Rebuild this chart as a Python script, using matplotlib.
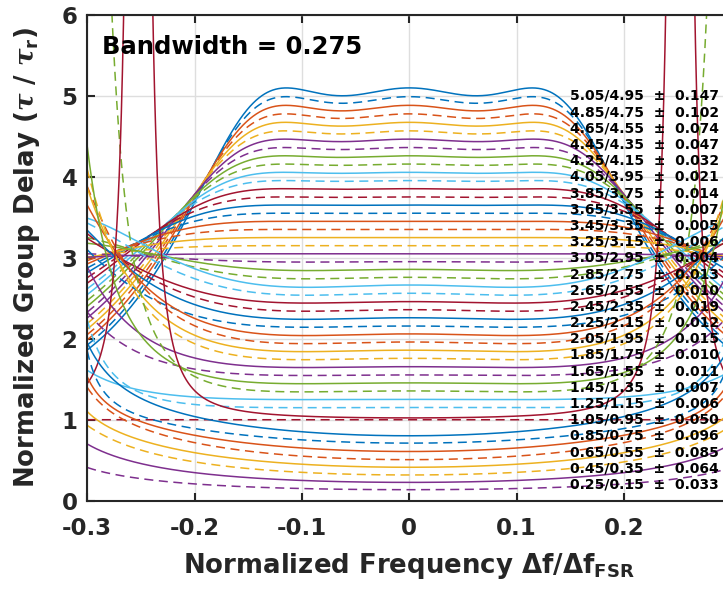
import numpy as np
import matplotlib
matplotlib.use('Agg')
import matplotlib.pyplot as plt

# Target delays (solid / dashed) and the quoted in-band tolerance of each pair
solid_delay = [5.05, 4.85, 4.65, 4.45, 4.25, 4.05, 3.85, 3.65, 3.45, 3.25, 3.05, 2.85, 2.65,
               2.45, 2.25, 2.05, 1.85, 1.65, 1.45, 1.25, 1.05, 0.85, 0.65, 0.45, 0.25]
dashed_delay = [4.95, 4.75, 4.55, 4.35, 4.15, 3.95, 3.75, 3.55, 3.35, 3.15, 2.95, 2.75, 2.55,
                2.35, 2.15, 1.95, 1.75, 1.55, 1.35, 1.15, 0.95, 0.75, 0.55, 0.35, 0.15]
tolerance = [0.147, 0.102, 0.074, 0.047, 0.032, 0.021, 0.014, 0.007, 0.005, 0.006, 0.004, 0.013,
             0.010, 0.019, 0.012, 0.015, 0.010, 0.011, 0.007, 0.006, 0.050, 0.096, 0.085, 0.064, 0.033]
bandwidth = 0.275

# Three-ring all-pass designs: one ring on the centre frequency (real pole) and a
# symmetric pair of rings detuned by +/- pair_freq (in units of the FSR).
solid_center_pole = [0.4650, 0.4377, 0.4094, 0.3800, 0.3492, 0.3169, 0.2828, 0.2462, 0.2062,
                     0.1597, 0.0902, 0.1836, 0.2126, 0.1760, 0.1731, 0.1690, 0.1531, 0.1164,
                     0.1028, 0.0486, -0.0077, -0.1626, -0.2588, -0.4280, -0.6545]
solid_pair_radius = [0.5275, 0.5032, 0.4776, 0.4503, 0.4210, 0.3894, 0.3547, 0.3158, 0.2706,
                     0.2135, 0.1167, 0.26355, 0.38391, 0.37250, 0.46197, 0.56853, 0.65934,
                     0.70544, 0.83805, 0.86995, 0.98100, 0.93486, 0.98585, 0.99032, 0.98545]
solid_pair_freq = [0.1411, 0.1461, 0.1517, 0.1582, 0.1658, 0.1748, 0.1856, 0.1990, 0.2164,
                   0.2407, 0.2856, 0.3295, 0.3299, 0.3761, 0.3759, 0.3643, 0.3595, 0.3864,
                   0.3437, 0.4161, 0.2525, 0.3627, 0.3383, 0.3492, 0.3758]

dashed_center_pole = [0.4514, 0.4237, 0.3948, 0.3648, 0.3333, 0.3001, 0.2649, 0.2268, 0.1841,
                      0.1312, 0.1354, 0.1910, 0.1982, 0.1761, 0.1561, 0.1642, 0.1442, 0.0953,
                      0.0975, 0.0390, 0.0, -0.1801, -0.3526, -0.5538, -0.7642]
dashed_pair_radius = [0.5155, 0.4906, 0.4641, 0.4359, 0.4055, 0.3725, 0.3358, 0.2942, 0.2442,
                      0.1753, 0.16443, 0.30265, 0.38688, 0.41888, 0.47079, 0.62087, 0.70827,
                      0.72644, 0.91085, 0.94622, 0.99999, 0.98814, 0.97789, 0.97383, 0.99844]
dashed_pair_freq = [0.1435, 0.1488, 0.1549, 0.1619, 0.1701, 0.1800, 0.1920, 0.2071, 0.2273,
                    0.2582, 0.3309, 0.3386, 0.3470, 0.3754, 0.3980, 0.3582, 0.3542, 0.4103,
                    0.3040, 0.3472, 0.5, 0.3276, 0.3521, 0.3845, 0.3478]

x_ticks = [-0.3, -0.2, -0.1, 0, 0.1, 0.2]
x_ticklabels = ['-0.3', '-0.2', '-0.1', '0', '0.1', '0.2']


def ring_delay(f, pole_radius, pole_freq):
    """Group delay (in round-trip times) of one all-pass ring section."""
    w = 2 * np.pi * (f - pole_freq)
    r = pole_radius
    return (1 - r * r) / (1 + r * r - 2 * r * np.cos(w))


def group_delay(f, center_pole, pair_radius, pair_freq):
    d = ring_delay(f, center_pole, 0.0)
    d = d + ring_delay(f, pair_radius, pair_freq)
    d = d + ring_delay(f, pair_radius, -pair_freq)
    return d


plt.rcParams['font.family'] = ['DejaVu Sans']
plt.rcParams['font.weight'] = 'bold'
plt.rcParams['mathtext.fontset'] = 'custom'
plt.rcParams['mathtext.rm'] = 'DejaVu Sans:bold'
plt.rcParams['mathtext.it'] = 'DejaVu Serif:italic'
plt.rcParams['lines.scale_dashes'] = False

colors = ['#0072BD', '#D95319', '#EDB120', '#7E2F8E', '#77AC30', '#4DBEEE', '#A2142F']
ink = '#262626'

fig = plt.figure(figsize=(7.23, 5.94), dpi=100)
ax = fig.add_axes([0.1207, 0.1571, 0.8907, 0.8177])

freq = np.linspace(-0.3, 0.3, 2401)
for k in range(len(solid_delay)):
    c = colors[k % len(colors)]
    ax.plot(freq, group_delay(freq, solid_center_pole[k], solid_pair_radius[k], solid_pair_freq[k]),
            color=c, lw=1.1)
    ax.plot(freq, group_delay(freq, dashed_center_pole[k], dashed_pair_radius[k], dashed_pair_freq[k]),
            color=c, lw=1.1, ls=(0, (6.5, 4)))

ax.set_xlim(-0.3, 0.3)
ax.set_ylim(0, 6)
ax.set_xticks(x_ticks)
ax.set_xticklabels(x_ticklabels)
ax.set_yticks(range(7))
ax.grid(True, color='#dedede', lw=1.0)
ax.set_axisbelow(True)
for s in ax.spines.values():
    s.set_linewidth(1.5)
    s.set_color(ink)
ax.tick_params(direction='in', length=6, width=1.5, top=True, right=True,
               labelsize=16.5, colors=ink)
ax.tick_params(axis='x', pad=12)
ax.tick_params(axis='y', pad=7)

for k in range(len(solid_delay)):
    ax.text(0.15, (solid_delay[k] + dashed_delay[k]) / 2,
            f"{solid_delay[k]:.2f}/{dashed_delay[k]:.2f}  \u00b1  {tolerance[k]:.3f}",
            fontsize=10, va='center', fontweight='bold', color='black')

ax.text(-0.2864, 5.6, f'Bandwidth = {bandwidth}', fontsize=17.5, fontweight='bold',
        va='center', color='black')
fig.text(27 / 723, 0.566, r'Normalized Group Delay ($\tau$ / $\tau_{\rm r}$)', rotation=90,
         ha='center', va='center', fontsize=18.7, fontweight='bold', color=ink)
fig.text(409 / 723, 21 / 594, r'Normalized Frequency $\Delta$f/$\Delta$f$_{\rm FSR}$',
         ha='center', va='baseline', fontsize=18.7, fontweight='bold', color=ink)

fig.savefig('out.png')
